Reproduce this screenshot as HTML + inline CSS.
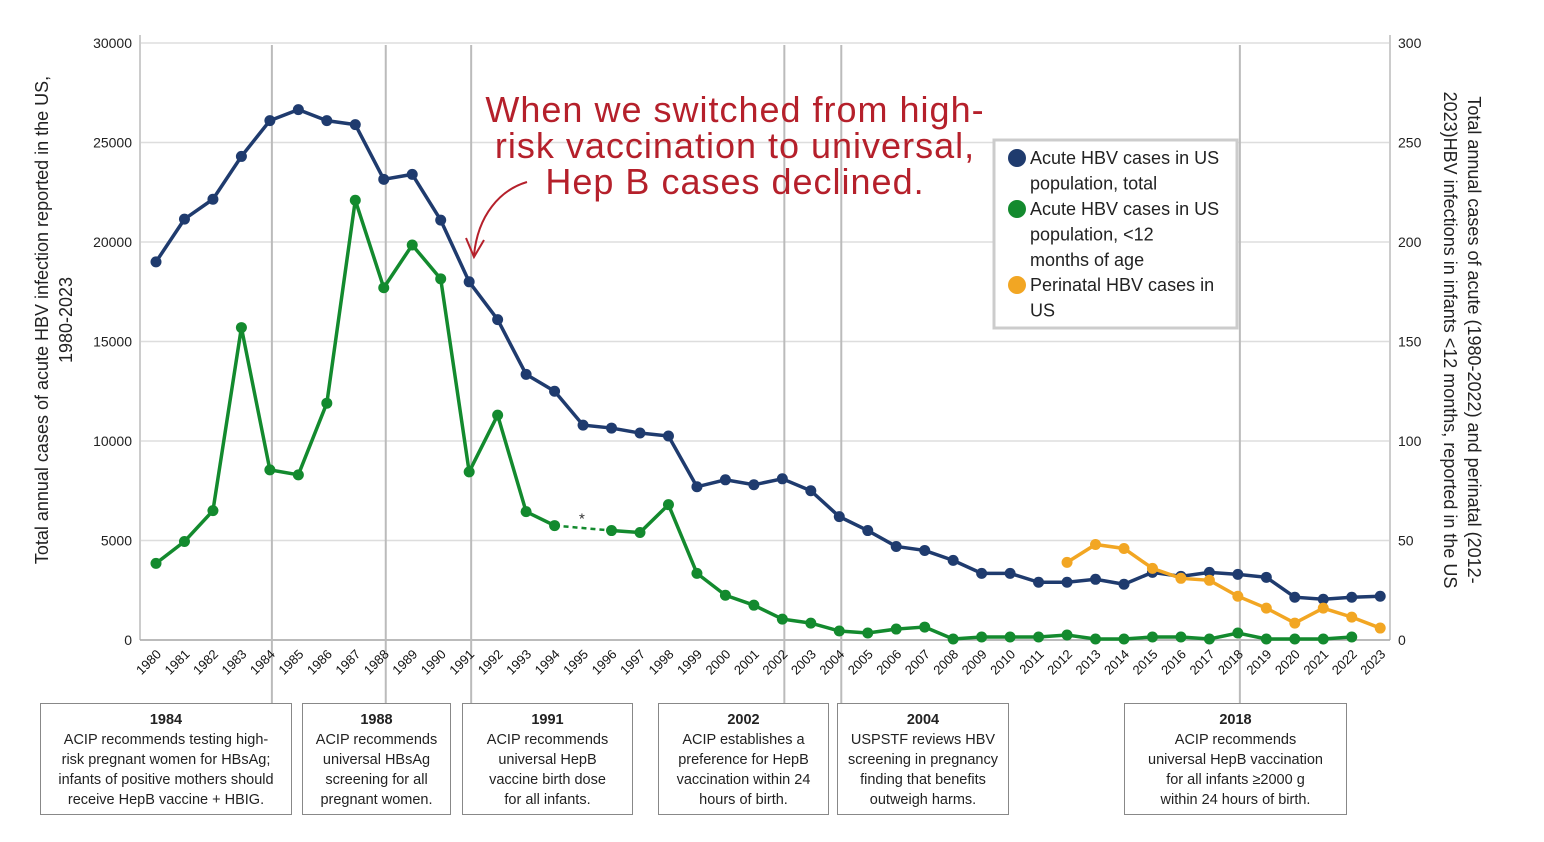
<!DOCTYPE html>
<html><head><meta charset="utf-8"><style>
body{margin:0;background:#fff;width:1544px;height:842px;overflow:hidden;font-family:"Liberation Sans",sans-serif}
svg{display:block}
.box{position:absolute;border:1.5px solid #888;background:#fff;font-size:14.5px;line-height:20px;text-align:center;color:#222;box-sizing:border-box;padding-top:6px;white-space:nowrap}
.box b{display:block}
</style></head><body>
<svg id="chart" width="1544" height="842"></svg>
<div class="box" style="left:40px;top:703px;width:252px;height:112px"><b>1984</b>ACIP recommends testing high-<br>risk pregnant women for HBsAg;<br>infants of positive mothers should<br>receive HepB vaccine + HBIG.</div>
<div class="box" style="left:302px;top:703px;width:149px;height:112px"><b>1988</b>ACIP recommends<br>universal HBsAg<br>screening for all<br>pregnant women.</div>
<div class="box" style="left:462px;top:703px;width:171px;height:112px"><b>1991</b>ACIP recommends<br>universal HepB<br>vaccine birth dose<br>for all infants.</div>
<div class="box" style="left:658px;top:703px;width:171px;height:112px"><b>2002</b>ACIP establishes a<br>preference for HepB<br>vaccination within 24<br>hours of birth.</div>
<div class="box" style="left:837px;top:703px;width:172px;height:112px"><b>2004</b>USPSTF reviews HBV<br>screening in pregnancy<br>finding that benefits<br>outweigh harms.</div>
<div class="box" style="left:1124px;top:703px;width:223px;height:112px"><b>2018</b>ACIP recommends<br>universal HepB vaccination<br>for all infants ≥2000 g<br>within 24 hours of birth.</div>
<script>
const years=[];for(let y=1980;y<=2023;y++)years.push(y);
const totalCases=[19000,21150,22150,24300,26100,26650,26100,25900,23150,23400,21100,18000,16100,13350,12500,10800,10650,10400,10250,7700,8050,7800,8100,7500,6200,5500,4700,4500,4000,3350,3350,2900,2900,3050,2800,3400,3200,3400,3300,3150,2150,2050,2150,2200];
const infantCases=[3850,4950,6500,15700,8550,8300,11900,22100,17700,19850,18150,8450,11300,6450,5750,null,5500,5400,6800,3350,2250,1750,1050,850,450,350,550,650,50,150,150,150,250,50,50,150,150,50,350,50,50,50,150,null];
const perinatalYears=[2012,2013,2014,2015,2016,2017,2018,2019,2020,2021,2022,2023];
const perinatalCases=[39,48,46,36,31,30,22,16,8.5,16,11.5,6];
const leftTicks=[0,5000,10000,15000,20000,25000,30000];
const rightTicks=[0,50,100,150,200,250,300];
const markerYears=[1984,1988,1991,2002,2004,2018];

const NS="http://www.w3.org/2000/svg",svg=document.getElementById('chart');
const X=y=>156+(y-1980)*28.47, YL=v=>640-v/30000*597, YR=v=>640-v/300*597;
function el(t,a,p){const e=document.createElementNS(NS,t);for(const k in a)e.setAttribute(k,a[k]);(p||svg).appendChild(e);return e;}
leftTicks.forEach((v,i)=>{
 const g=el('line',{x1:140,x2:1390,y1:YL(v),y2:YL(v),stroke:'#ddd','stroke-width':1.5});
 
 
 const t=el('text',{x:132,y:YL(v)+5,'text-anchor':'end','font-size':14,fill:'#222'});t.textContent=v;
 
 
 const r=el('text',{x:1398,y:YR(rightTicks[i])+5,'font-size':14,fill:'#222'});r.textContent=rightTicks[i];
 
 
});
el('line',{x1:140,x2:140,y1:35,y2:640,stroke:'#ccc','stroke-width':2});
el('line',{x1:1390,x2:1390,y1:35,y2:640,stroke:'#ccc','stroke-width':2});
el('line',{x1:140,x2:1390,y1:640,y2:640,stroke:'#aaa','stroke-width':1.5});
markerYears.forEach(y=>{const l=el('line',{x1:X(y)+2,x2:X(y)+2,y1:45,y2:703,stroke:'#bbb','stroke-width':2});
 
 });
years.forEach(y=>{const t=el('text',{transform:`translate(${X(y)+6},${655}) rotate(-45)`,'text-anchor':'end','font-size':13,fill:'#111'});t.textContent=y;
 
 });
function series(xs,vs,Y,color,name){
 let segs=[],cur=[];
 vs.forEach((v,i)=>{if(v==null){if(cur.length)segs.push(cur);cur=[];}else cur.push([X(xs[i]),Y(v)]);});
 if(cur.length)segs.push(cur);
 segs.forEach(s=>{const p=el('polyline',{points:s.map(q=>q.join(',')).join(' '),fill:'none',stroke:color,'stroke-width':3.5});
  
  });
 vs.forEach((v,i)=>{if(v==null)return;const c=el('circle',{cx:X(xs[i]),cy:Y(v),r:5.5,fill:color});
  
  });
 return segs;
}
series(years,totalCases,YL,'#1f3b6e','total');
series(years,infantCases,YL,'#138a2e','infant');
const gi=infantCases.indexOf(null);
const d=el('line',{x1:X(years[gi-1]),y1:YL(infantCases[gi-1]),x2:X(years[gi+1]),y2:YL(infantCases[gi+1]),stroke:'#138a2e','stroke-width':2.5,'stroke-dasharray':'5,4'});


const st=el('text',{x:X(years[gi])-4,y:YL(infantCases[gi-1])-2,'font-size':15,fill:'#333'});st.textContent='*';
series(perinatalYears,perinatalCases,YR,'#f2a623','perinatal');
const lt=el('text',{transform:'translate(48,320) rotate(-90)','text-anchor':'middle','font-size':18,fill:'#222'});

el('tspan',{x:0,dy:0},lt).textContent='Total annual cases of acute HBV infection reported in the US,';
el('tspan',{x:0,dy:24},lt).textContent='1980-2023';
const rt=el('text',{transform:'translate(1468,340) rotate(90)','text-anchor':'middle','font-size':18,fill:'#222'});

el('tspan',{x:0,dy:0},rt).textContent='Total annual cases of acute (1980-2022) and perinatal (2012-';
el('tspan',{x:0,dy:24},rt).textContent='2023)HBV infections in infants <12 months, reported in the US';
const an=el('text',{'text-anchor':'middle','font-size':36,fill:'#b5202b','letter-spacing':1});

[['When we switched from high-',122],['risk vaccination to universal,',158],['Hep B cases declined.',194]].forEach(([s,y])=>{el('tspan',{x:735,y:y},an).textContent=s;});
const ar=el('path',{d:'M527,182 C500,190 478,215 474,255',fill:'none',stroke:'#b5202b','stroke-width':2});

el('path',{d:'M466,238 L474,257 L484,240',fill:'none',stroke:'#b5202b','stroke-width':2});
const lg=el('g',{});
el('rect',{x:994,y:140,width:243,height:188,fill:'#fff',stroke:'#ccc','stroke-width':3},lg);
[['#1f3b6e',['Acute HBV cases in US','population, total'],158],['#138a2e',['Acute HBV cases in US','population, <12','months of age'],209],['#f2a623',['Perinatal HBV cases in','US'],285]].forEach(([c,ls,y])=>{
 const e=el('g',{},lg);
 el('circle',{cx:1017,cy:y,r:9,fill:c},e);
 ls.forEach((s,i)=>{const t=el('text',{x:1030,y:y+6+i*25.5,'font-size':18,fill:'#222'},e);t.textContent=s;});
});
</script>
</body></html>
